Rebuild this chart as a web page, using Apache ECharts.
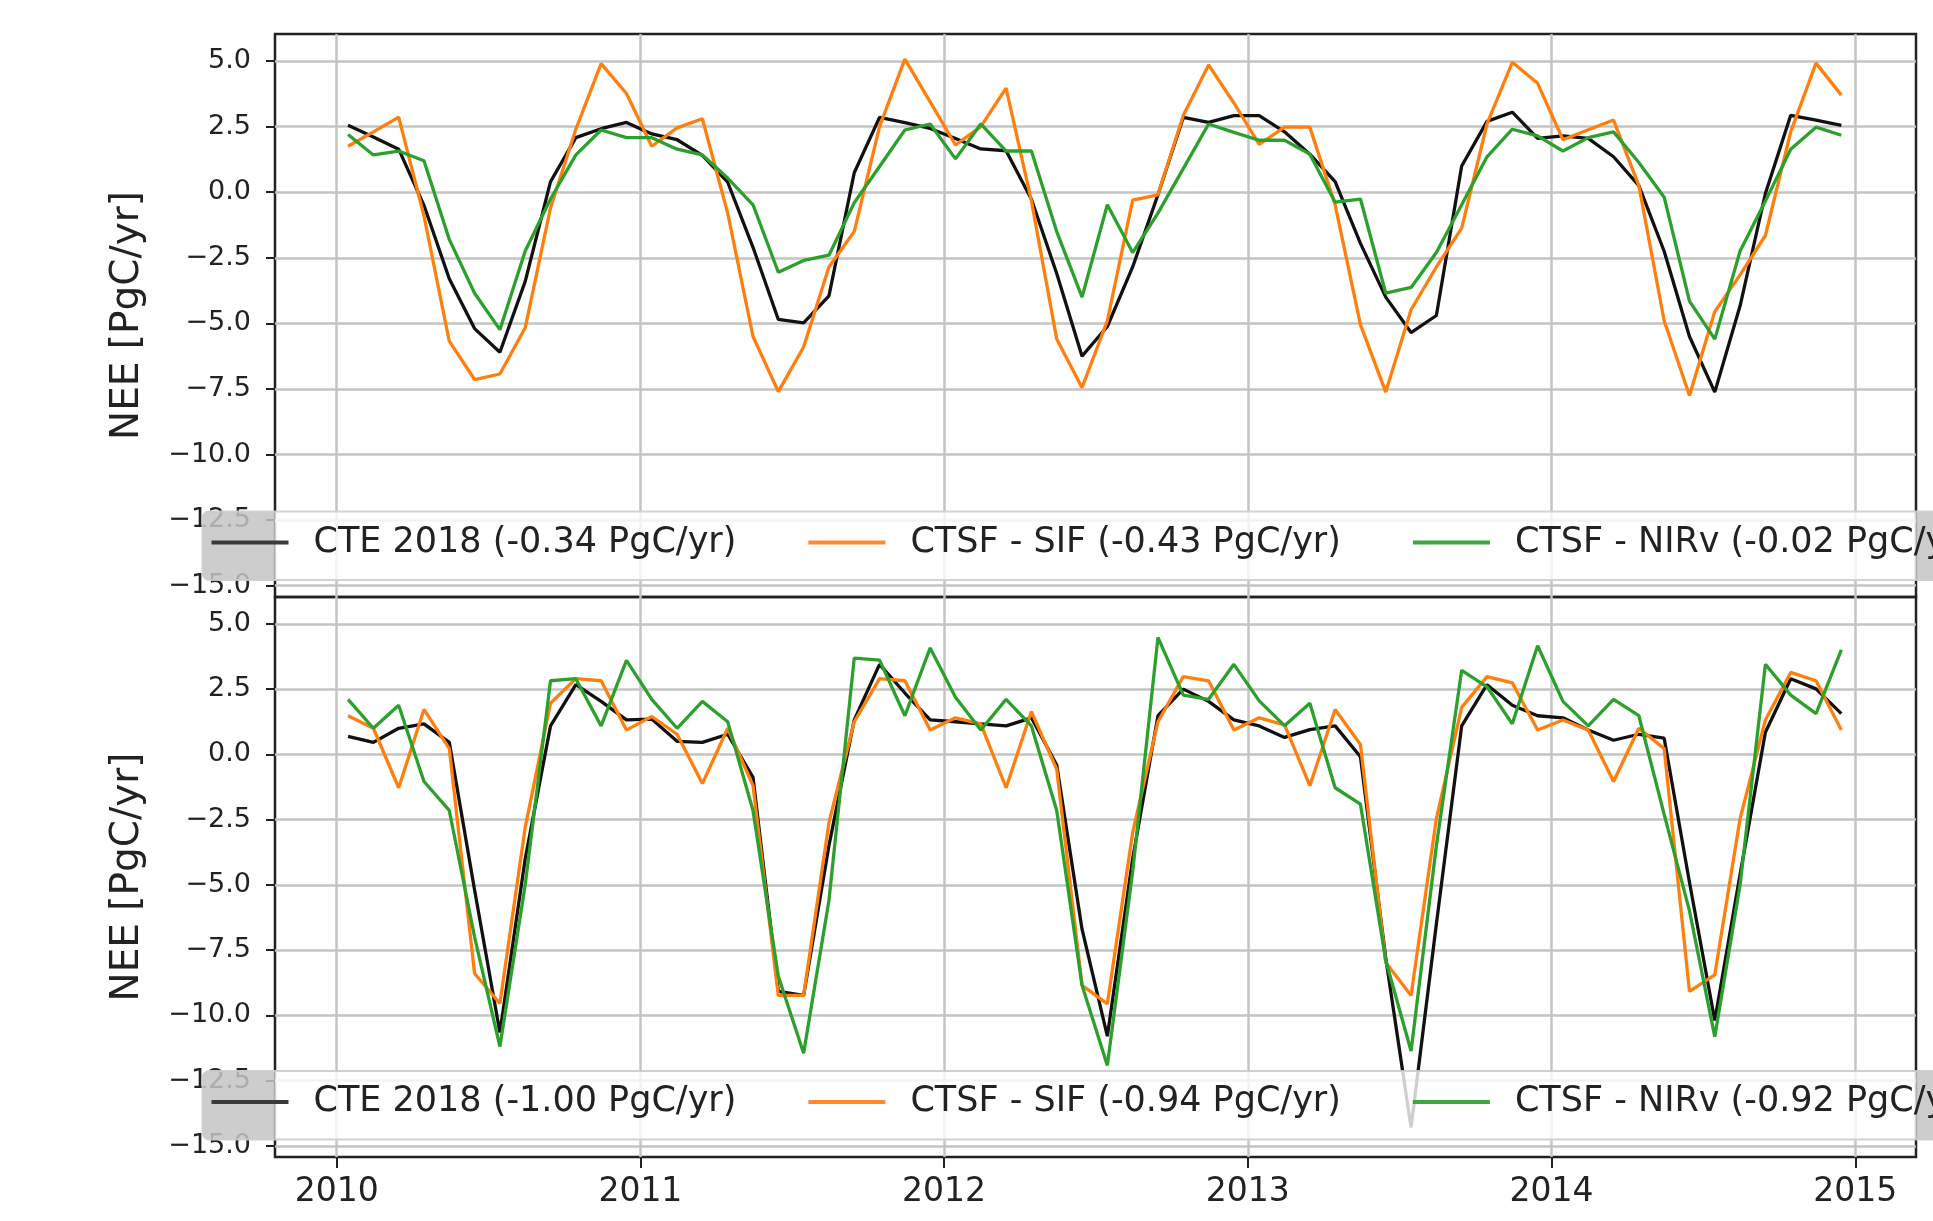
<!DOCTYPE html>
<html>
<head>
<meta charset="utf-8">
<title>NEE CTE 2018 vs CTSF</title>
<script src="https://cdn.jsdelivr.net/npm/echarts@6/dist/echarts.min.js"></script>
<style>
  html, body { margin: 0; padding: 0; background: #ffffff; }
  #chart { width: 1933px; height: 1221px; }
</style>
</head>
<body>
<div id="chart"></div>
<script>
// monthly values 2010-01 .. 2014-12
const startYear = 2010
const yearTicks = [2010, 2011, 2012, 2013, 2014, 2015]
const neeTicks = [-15, -12.5, -10, -7.5, -5, -2.5, 0, 2.5, 5]

const topCte = [
  2.55, 2.1, 1.64, -0.5, -3.3, -5.2, -6.1, -3.4, 0.4, 2.08, 2.42, 2.66,
  2.22, 2.0, 1.4, 0.38, -2.1, -4.85, -4.98, -3.95, 0.74, 2.85, 2.65, 2.43,
  2.05, 1.65, 1.58, -0.27, -3.1, -6.25, -5.12, -2.85, -0.1, 2.85, 2.66, 2.92,
  2.92, 2.3, 1.45, 0.4, -1.95, -4.0, -5.35, -4.7, 1.0, 2.7, 3.05, 2.05,
  2.15, 2.05, 1.35, 0.25, -2.25, -5.5, -7.62, -4.33, -0.05, 2.93, 2.75, 2.55
]
const topSif = [
  1.75, 2.3, 2.86, -0.9, -5.68, -7.14, -6.93, -5.17, -0.6, 2.4, 4.9, 3.76,
  1.75, 2.45, 2.8, -0.8, -5.5, -7.6, -5.9, -2.85, -1.5, 2.5, 5.07, 3.44,
  1.8, 2.5, 3.97, -0.33, -5.6, -7.45, -4.9, -0.3, -0.1, 2.92, 4.85, 3.4,
  1.82, 2.48, 2.48, -0.48, -5.05, -7.62, -4.48, -2.85, -1.37, 2.6, 4.95, 4.15,
  2.0, 2.38, 2.75, 0.25, -4.9, -7.75, -4.55, -3.15, -1.65, 2.3, 4.92, 3.7
]
const topNirv = [
  2.2, 1.42, 1.57, 1.2, -1.8, -3.85, -5.24, -2.24, -0.26, 1.42, 2.37, 2.08,
  2.08, 1.64, 1.42, 0.54, -0.48, -3.05, -2.6, -2.4, -0.4, 0.98, 2.37, 2.6,
  1.27, 2.6, 1.57, 1.57, -1.5, -4.0, -0.48, -2.3, -0.8, 0.9, 2.6, 2.28,
  1.98, 1.98, 1.45, -0.38, -0.26, -3.85, -3.63, -2.3, -0.48, 1.35, 2.4, 2.15,
  1.57, 2.08, 2.3, 1.13, -0.19, -4.15, -5.6, -2.24, -0.34, 1.64, 2.48, 2.17
]

const bottomCte = [
  0.69, 0.46, 1.0, 1.17, 0.46, -5.2, -10.66, -4.0, 1.09, 2.67, 2.03, 1.32,
  1.35, 0.5, 0.46, 0.77, -0.88, -9.08, -9.24, -3.5, 1.32, 3.45, 2.35, 1.32,
  1.25, 1.17, 1.09, 1.4, -0.41, -6.7, -10.8, -4.0, 1.48, 2.5, 2.03, 1.32,
  1.09, 0.65, 0.95, 1.09, -0.09, -7.8, -14.3, -6.5, 1.09, 2.67, 1.88, 1.48,
  1.4, 0.93, 0.54, 0.77, 0.62, -4.9, -10.2, -4.6, 0.85, 2.9, 2.51, 1.56
]
const bottomSif = [
  1.48, 1.0, -1.28, 1.72, 0.22, -8.4, -9.55, -2.8, 1.96, 2.9, 2.82, 0.93,
  1.45, 0.77, -1.12, 1.0, -1.2, -9.24, -9.24, -2.62, 1.25, 2.9, 2.82, 0.93,
  1.4, 1.17, -1.28, 1.64, -0.57, -8.85, -9.56, -3.0, 1.25, 2.98, 2.82, 0.93,
  1.4, 1.13, -1.2, 1.72, 0.38, -7.98, -9.24, -2.46, 1.8, 2.98, 2.74, 0.93,
  1.32, 0.93, -1.04, 1.0, 0.22, -9.08, -8.45, -2.46, 1.32, 3.14, 2.82, 0.93
]
const bottomNirv = [
  2.11, 1.0, 1.88, -1.04, -2.15, -7.0, -11.2, -5.0, 2.82, 2.9, 1.09, 3.6,
  2.11, 1.0, 2.03, 1.25, -2.15, -8.5, -11.45, -5.6, 3.69, 3.61, 1.48, 4.08,
  2.19, 0.93, 2.11, 1.09, -2.15, -8.85, -11.92, -4.5, 4.48, 2.27, 2.11, 3.45,
  2.05, 1.1, 1.96, -1.28, -1.91, -7.9, -11.37, -3.5, 3.22, 2.59, 1.17, 4.16,
  2.03, 1.09, 2.11, 1.48, -2.3, -6.0, -10.82, -5.0, 3.45, 2.27, 1.56, 4.0
]

const topLabels = ['CTE 2018 (-0.34 PgC/yr)', 'CTSF - SIF (-0.43 PgC/yr)', 'CTSF - NIRv (-0.02 PgC/yr)']
const bottomLabels = ['CTE 2018 (-1.00 PgC/yr)', 'CTSF - SIF (-0.94 PgC/yr)', 'CTSF - NIRv (-0.92 PgC/yr)']
const lineColors = ['#111111', '#ff7f0e', '#2ca02c']
const handleColors = ['#3a3a3a', '#ff8a2a', '#3aa83a']

// mid-month positions in decimal years
const months = topCte.map((_, i) => startYear + (i + 0.45) / 12)

const FONT = 'DejaVu Sans'
const INK = '#222222'

const grids = [
  { left: 275, top: 34, width: 1641, height: 563 },
  { left: 275, top: 597, width: 1641, height: 560 },
]

const legendBoxes = [
  { top: 511.5, height: 68.5, itemTop: 525 },
  { top: 1071, height: 68.5, itemTop: 1084.5 },
]

const fmtNee = (v) => (v < 0 ? '\u2212' : '') + Math.abs(v).toFixed(1)

const makeXAxis = (gridIndex, withLabels) => ({
  type: 'value',
  gridIndex,
  min: 2009.797,
  max: 2015.2,
  axisLine: { show: false, onZero: false },
  axisTick: {
    show: withLabels,
    customValues: yearTicks,
    length: 11,
    lineStyle: { color: INK, width: 2 },
  },
  axisLabel: {
    show: withLabels,
    customValues: yearTicks,
    formatter: (v) => String(v),
    margin: 19,
    fontSize: 33,
    fontFamily: FONT,
    color: INK,
  },
  splitLine: { show: true, lineStyle: { color: '#c4c4c4', width: 2.5 } },
})

const makeYAxis = (gridIndex) => ({
  type: 'value',
  gridIndex,
  min: -15.43,
  max: 6.03,
  name: 'NEE [PgC/yr]',
  nameLocation: 'middle',
  nameGap: 128,
  nameTextStyle: { fontSize: 39, fontFamily: FONT, color: INK },
  axisLine: { show: false, onZero: false },
  axisTick: {
    show: true,
    customValues: neeTicks,
    length: 9,
    lineStyle: { color: INK, width: 2 },
  },
  axisLabel: {
    customValues: neeTicks,
    formatter: fmtNee,
    margin: 24,
    fontSize: 27,
    fontFamily: FONT,
    color: INK,
  },
  splitLine: { show: true, lineStyle: { color: '#c4c4c4', width: 2.5 } },
})

const makeSeries = (names, valueSets, gridIndex) =>
  valueSets.map((vals, k) => ({
    name: names[k],
    type: 'line',
    xAxisIndex: gridIndex,
    yAxisIndex: gridIndex,
    data: vals.map((v, i) => [months[i], v]),
    showSymbol: false,
    symbol: 'none',
    z: 2 + k,
    lineStyle: { color: lineColors[k], width: 3.3 },
    itemStyle: { color: lineColors[k] },
  }))

const makeLegend = (names, box) => ({
  left: 211.5,
  top: box.itemTop,
  width: 2600,
  padding: 0,
  orient: 'horizontal',
  icon: 'rect',
  itemWidth: 77,
  itemHeight: 4,
  itemGap: 72,
  z: 60,
  selectedMode: false,
  data: names.map((n, k) => ({ name: n, itemStyle: { color: handleColors[k] } })),
  textStyle: {
    fontSize: 35,
    fontFamily: FONT,
    color: INK,
    padding: [0, 0, 0, 20],
  },
})

// legend frame: grey outside the axes, translucent white over the plot
const legendFrame = (box, grid) => {
  const right = grid.left + grid.width
  return [
    {
      type: 'rect',
      z: 50,
      shape: { x: 202.5, y: box.top, width: grid.left - 202.5, height: box.height, r: [7, 0, 0, 7] },
      style: { fill: 'rgba(196,196,196,0.85)' },
    },
    {
      type: 'rect',
      z: 50,
      shape: { x: grid.left, y: box.top, width: grid.width, height: box.height },
      style: { fill: 'rgba(255,255,255,0.8)' },
    },
    {
      type: 'rect',
      z: 50,
      shape: { x: right, y: box.top, width: 1933 - right, height: box.height },
      style: { fill: 'rgba(196,196,196,0.85)' },
    },
    {
      type: 'rect',
      z: 51,
      shape: { x: 202.5, y: box.top, width: 1800, height: box.height, r: 7 },
      style: { fill: 'none', stroke: 'rgba(204,204,204,0.9)', lineWidth: 2 },
    },
  ]
}

const chart = echarts.init(document.getElementById('chart'), null, { renderer: 'canvas' })

chart.setOption({
  animation: false,
  backgroundColor: '#ffffff',
  grid: grids.map((g) => ({
    ...g,
    show: true,
    borderColor: INK,
    borderWidth: 2.5,
    backgroundColor: 'transparent',
    containLabel: false,
  })),
  xAxis: [makeXAxis(0, false), makeXAxis(1, true)],
  yAxis: [makeYAxis(0), makeYAxis(1)],
  legend: [makeLegend(topLabels, legendBoxes[0]), makeLegend(bottomLabels, legendBoxes[1])],
  graphic: [...legendFrame(legendBoxes[0], grids[0]), ...legendFrame(legendBoxes[1], grids[1])],
  series: [
    ...makeSeries(topLabels, [topCte, topSif, topNirv], 0),
    ...makeSeries(bottomLabels, [bottomCte, bottomSif, bottomNirv], 1),
  ],
})

window.addEventListener('resize', () => chart.resize())
</script>
</body>
</html>
